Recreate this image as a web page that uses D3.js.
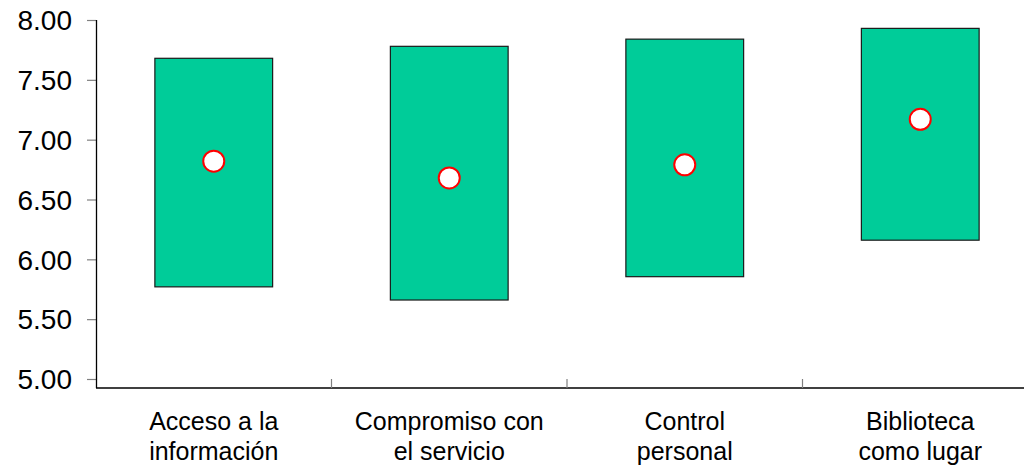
<!DOCTYPE html>
<html>
<head>
<meta charset="utf-8">
<script src="https://cdn.jsdelivr.net/npm/d3@7/dist/d3.min.js"></script>
<style>
  html, body { margin: 0; padding: 0; background: #fff; }
  svg { display: block; }
  text { font-family: "Liberation Sans", Arial, sans-serif; fill: #000; }
</style>
</head>
<body>
<svg id="chart" width="1024" height="468"></svg>
<script>
const categories = [
  ["Acceso a la", "información"],
  ["Compromiso con", "el servicio"],
  ["Control", "personal"],
  ["Biblioteca", "como lugar"]
];
const lowValues  = [5.77, 5.66, 5.855, 6.16];
const highValues = [7.68, 7.78, 7.84, 7.93];
const meanValues = [6.82, 6.68, 6.79, 7.17];
const yTicks = [5.00, 5.50, 6.00, 6.50, 7.00, 7.50, 8.00];

const svg = d3.select("#chart");
const ids = categories.map((c, i) => i);

const x = d3.scaleBand().domain(ids).range([96, 1038]).paddingInner(0).paddingOuter(0);
const y = d3.scaleLinear().domain([5, 8]).range([379, 20]);
const barW = x.bandwidth() * 0.5;
const axisY = 388;

// y axis
const yAxis = d3.axisLeft(y).tickValues(yTicks).tickSize(9).tickPadding(15).tickFormat(d3.format(".2f"));
const gy = svg.append("g").attr("transform", "translate(96,0)").call(yAxis);
gy.select(".domain").remove();
gy.selectAll(".tick line").attr("stroke", "#808080").attr("stroke-width", 1.2);
gy.selectAll(".tick text").style("font-size", "28px").attr("dy", "0.35em");
svg.append("line").attr("x1", 96.5).attr("x2", 96.5).attr("y1", 20).attr("y2", axisY)
  .attr("stroke", "#000").attr("stroke-width", 1.3);

// x axis
svg.append("line").attr("x1", 96).attr("x2", 1038).attr("y1", axisY).attr("y2", axisY)
  .attr("stroke", "#000").attr("stroke-width", 1.6);
svg.selectAll(".xtick").data(ids.slice(1)).enter().append("line")
  .attr("x1", d => x(d)).attr("x2", d => x(d))
  .attr("y1", axisY - 9).attr("y2", axisY)
  .attr("stroke", "#808080").attr("stroke-width", 1.2);

// bars
svg.selectAll(".bar").data(ids).enter().append("rect")
  .attr("x", i => x(i) + x.bandwidth() / 2 - barW / 2)
  .attr("width", barW)
  .attr("y", i => y(highValues[i]))
  .attr("height", i => y(lowValues[i]) - y(highValues[i]))
  .attr("fill", "#00CC99")
  .attr("stroke", "#1a1a1a")
  .attr("stroke-width", 1.2);

// mean markers
svg.selectAll(".dot").data(ids).enter().append("circle")
  .attr("cx", i => x(i) + x.bandwidth() / 2)
  .attr("cy", i => y(meanValues[i]))
  .attr("r", 10.5)
  .attr("fill", "#fff")
  .attr("stroke", "#ff0000")
  .attr("stroke-width", 2);

// category labels
const lab = svg.selectAll(".cat").data(ids).enter().append("text")
  .attr("text-anchor", "middle")
  .style("font-size", "25px");
lab.each(function(i) {
  const t = d3.select(this);
  categories[i].forEach((line, k) => {
    t.append("tspan").attr("x", x(i) + x.bandwidth() / 2).attr("y", 430 + k * 30).text(line);
  });
});
</script>
</body>
</html>
